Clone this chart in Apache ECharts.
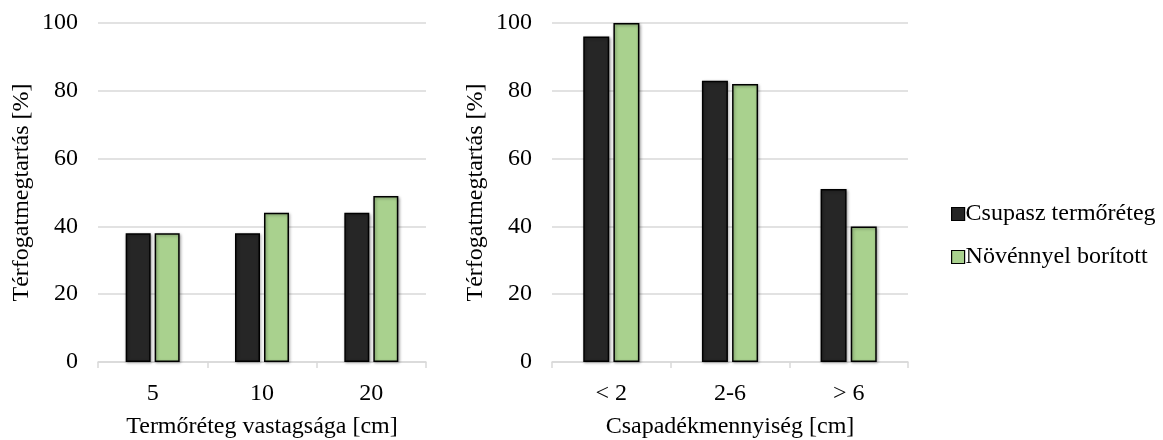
<!DOCTYPE html>
<html>
<head>
<meta charset="utf-8">
<script src="https://cdn.jsdelivr.net/npm/echarts@6/dist/echarts.min.js"></script>
<style>
  html, body { margin: 0; padding: 0; background: #fff; }
  #chart { width: 1163px; height: 440px; }
</style>
</head>
<body>
<div id="chart"></div>
<script>
// Categories for the two panels
const thicknessCategories = ['5', '10', '20'];
const rainfallCategories = ['< 2', '2-6', '> 6'];

// Volume retention [%] by substrate thickness
const bareByThickness = [38, 38, 44];
const plantedByThickness = [38, 44, 49];

// Volume retention [%] by rainfall amount
const bareByRainfall = [96, 83, 51];
const plantedByRainfall = [100, 82, 40];

const seriesNames = ['Csupasz termőréteg', 'Növénnyel borított'];
const yAxisName = 'Térfogatmegtartás [%]';
const xAxisNames = ['Termőréteg vastagsága [cm]', 'Csapadékmennyiség [cm]'];

const FONT = '"Liberation Serif", "Times New Roman", serif';
const FS = 24;
const TEXT = '#000';
const GRIDLINE = '#d9d9d9';
const BARE = '#262626';
const PLANTED = '#a9d18e';

function yAxis(gridIndex) {
  return {
    type: 'value', gridIndex, min: 0, max: 100, interval: 20,
    name: yAxisName, nameLocation: 'middle', nameGap: 64, nameRotate: 90,
    nameTextStyle: { fontFamily: FONT, fontSize: FS, color: TEXT },
    axisLabel: { fontFamily: FONT, fontSize: FS, color: TEXT, margin: 20 },
    axisLine: { show: false }, axisTick: { show: false },
    splitLine: { lineStyle: { color: GRIDLINE, width: 1.5 } }
  };
}

function xAxis(gridIndex, data, name) {
  return {
    type: 'category', gridIndex, data,
    name, nameLocation: 'middle', nameGap: 53,
    nameTextStyle: { fontFamily: FONT, fontSize: FS, color: TEXT },
    axisLabel: { fontFamily: FONT, fontSize: FS, color: TEXT, margin: 20 },
    axisLine: { lineStyle: { color: GRIDLINE, width: 1.5 } },
    axisTick: { show: true, length: 6, lineStyle: { color: GRIDLINE, width: 1.5 } }
  };
}

function bar(name, data, color, axisIndex, width) {
  return {
    type: 'bar', name, data,
    xAxisIndex: axisIndex, yAxisIndex: axisIndex,
    barWidth: width, barGap: '16%',
    itemStyle: {
      color, borderColor: '#000', borderWidth: 1.5,
      shadowBlur: 3, shadowColor: 'rgba(0,0,0,0.35)', shadowOffsetX: 1, shadowOffsetY: 1
    },
    emphasis: { disabled: true }
  };
}

const chart = echarts.init(document.getElementById('chart'), null, { renderer: 'canvas' });
chart.setOption({
  backgroundColor: '#fff',
  animation: false,
  grid: [
    { left: 98, right: 737, top: 23, bottom: 78, outerBoundsMode: 'none', containLabel: false },
    { left: 552, right: 255, top: 23, bottom: 78, outerBoundsMode: 'none', containLabel: false }
  ],
  xAxis: [
    xAxis(0, thicknessCategories, xAxisNames[0]),
    xAxis(1, rainfallCategories, xAxisNames[1])
  ],
  yAxis: [yAxis(0), yAxis(1)],
  legend: {
    orient: 'vertical', left: 946, top: 197,
    itemWidth: 13, itemHeight: 13, itemGap: 19,
    textStyle: { fontFamily: FONT, fontSize: FS, color: TEXT, padding: [0, 0, 0, -4] },
    data: seriesNames.map(n => ({ name: n, icon: 'rect' })),
    itemStyle: { borderColor: '#000', borderWidth: 1.2, shadowBlur: 0, shadowOffsetX: 0, shadowOffsetY: 0 }
  },
  series: [
    bar(seriesNames[0], bareByThickness, BARE, 0, 25),
    bar(seriesNames[1], plantedByThickness, PLANTED, 0, 25),
    bar(seriesNames[0], bareByRainfall, BARE, 1, 26),
    bar(seriesNames[1], plantedByRainfall, PLANTED, 1, 26)
  ]
});
</script>
</body>
</html>
